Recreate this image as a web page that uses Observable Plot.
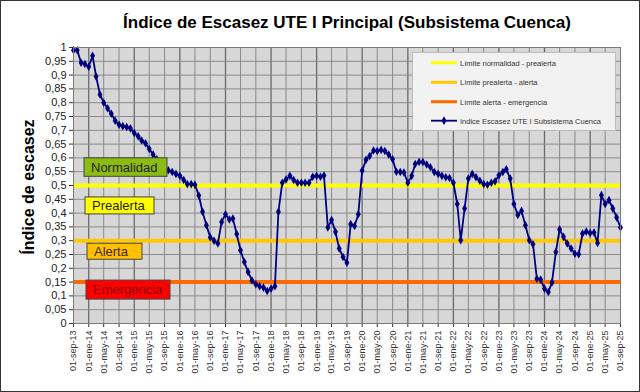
<!DOCTYPE html>
<html><head><meta charset="utf-8">
<script src="https://cdn.jsdelivr.net/npm/d3@7"></script>
<script src="https://cdn.jsdelivr.net/npm/@observablehq/plot@0.6"></script>
<style>body{margin:0;background:#fff;font-family:"Liberation Sans",Arial,sans-serif}</style>
</head><body><div id="chart"></div>
<script>
const title = "Índice de Escasez UTE I Principal (Subsistema Cuenca)";
const yLabel = "Índice de escasez";
const startMonth = "2013-09-01";
const endMonth = "2025-09-01";
const monthsEs = ["ene","feb","mar","abr","may","jun","jul","ago","sep","oct","nov","dic"];
const yTickValues = [0,0.05,0.1,0.15,0.2,0.25,0.3,0.35,0.4,0.45,0.5,0.55,0.6,0.65,0.7,0.75,0.8,0.85,0.9,0.95,1];
const indexValues = [
  0.99,0.99,0.945,0.94,0.93,0.97,0.895,0.83,0.80,0.78,0.76,0.735,
  0.72,0.715,0.712,0.707,0.69,0.678,0.663,0.653,0.632,0.612,0.595,0.575,
  0.562,0.555,0.549,0.542,0.535,0.52,0.505,0.505,0.503,0.464,0.405,0.356,
  0.312,0.30,0.29,0.368,0.396,0.377,0.38,0.324,0.265,0.223,0.187,0.156,
  0.142,0.135,0.13,0.118,0.126,0.135,0.405,0.51,0.522,0.535,0.52,0.51,
  0.51,0.51,0.51,0.532,0.535,0.532,0.536,0.348,0.375,0.332,0.272,0.241,
  0.22,0.36,0.353,0.396,0.554,0.593,0.607,0.627,0.625,0.629,0.625,0.612,
  0.595,0.55,0.549,0.547,0.51,0.535,0.578,0.585,0.585,0.576,0.566,0.549,
  0.542,0.535,0.53,0.527,0.51,0.433,0.302,0.417,0.525,0.542,0.53,0.517,
  0.505,0.503,0.51,0.515,0.537,0.549,0.559,0.525,0.433,0.393,0.408,0.356,
  0.302,0.287,0.162,0.159,0.126,0.114,0.149,0.259,0.341,0.314,0.29,0.272,
  0.253,0.251,0.326,0.333,0.328,0.33,0.292,0.465,0.433,0.447,0.417,0.384,
  0.348
];
const thresholdValues = [0.5, 0.3, 0.15];
const thresholdNames = ["Límite normalidad - prealerta","Límite prealerta - alerta","Límite alerta - emergencia"];
const seriesName = "Indice Escasez UTE I Subsistema Cuenca";
const levelNames = ["Normalidad","Prealerta","Alerta","Emergencia"];

// styles / layout
const thresholdColors = ["#ffff00", "#ffc800", "#ff6a00"];
const levelFill = ["#8cbb12", "#ffff00", "#ffc000", "#ff0000"];
const levelText = ["#1e1e1e", "#1e1e1e", "#3a2a00", "#8b0000"];
const levelLayout = [ // [x0, x1, yValueCenter, height]
  [84, 167, 0.565, 18.5],
  [85, 154, 0.426, 17],
  [87, 142, 0.26, 16],
  [86, 170, 0.121, 19]
];
const navy = "#00007f";

const start = new Date(startMonth + "T00:00:00Z");
const end = new Date(endMonth + "T00:00:00Z");
const data = indexValues.map((v, i) => ({date: d3.utcMonth.offset(start, i), value: v}));
const xTicks = d3.utcMonth.every(4).range(start, d3.utcDay.offset(end, 1));
const janTicks = xTicks.filter(d => d.getUTCMonth() === 0);
const otherTicks = xTicks.filter(d => d.getUTCMonth() !== 0);
const fmtX = d => "01-" + monthsEs[d.getUTCMonth()] + "-" + String(d.getUTCFullYear() % 100).padStart(2, "0");
const fmtY = v => v === 0 ? "0" : String(+v.toFixed(2)).replace(".", ",");

const chart = Plot.plot({
  width: 640, height: 392,
  marginLeft: 73, marginRight: 20, marginTop: 47, marginBottom: 69,
  style: {fontFamily: "Liberation Sans, Arial, sans-serif", fontSize: "9px", color: "#333", background: "#fff", overflow: "visible"},
  x: {type: "utc", domain: [start, end], ticks: xTicks, tickFormat: fmtX, tickRotate: -90, tickSize: 4, tickPadding: 3, label: null},
  y: {domain: [0, 1], ticks: yTickValues, tickFormat: fmtY, tickSize: 4, tickPadding: 3, label: null},
  marks: [
    Plot.frame({fill: "#d7d7d7"}),
    Plot.ruleX(otherTicks, {stroke: "#8a8a8a", strokeWidth: 1}),
    Plot.ruleX(janTicks, {stroke: "#6a6a6a", strokeWidth: 1.3}),
    Plot.ruleY(yTickValues, {stroke: "#8a8a8a", strokeWidth: 1}),
    Plot.ruleY([thresholdValues[0]], {stroke: thresholdColors[0], strokeWidth: 4}),
    Plot.ruleY([thresholdValues[1]], {stroke: thresholdColors[1], strokeWidth: 4}),
    Plot.ruleY([thresholdValues[2]], {stroke: thresholdColors[2], strokeWidth: 4}),
    Plot.line(data, {x: "date", y: "value", stroke: navy, strokeWidth: 1.8}),
    Plot.dot(data, {x: "date", y: "value", symbol: "diamond", r: 2.6, fill: navy, stroke: "none"}),
    Plot.frame({stroke: "#7a7a7a"})
  ]
});
document.getElementById("chart").appendChild(chart);

const svg = d3.select(chart);
svg.selectAll('g[aria-label="y-axis tick label"] text').attr("font-size", 11).attr("fill", "#222");
svg.selectAll('g[aria-label="x-axis tick label"] text').attr("fill", "#333");
const ys = chart.scale("y");

// outer border
svg.append("rect").attr("x", 0.5).attr("y", 0.5).attr("width", 639).attr("height", 391)
  .attr("fill", "none").attr("stroke", "#333");

// title
svg.append("text").attr("x", 347).attr("y", 28).attr("text-anchor", "middle")
  .attr("font-size", 17).attr("font-weight", "bold").attr("fill", "#000").text(title);
// y label
svg.append("text").attr("transform", "translate(34,187) rotate(-90)").attr("text-anchor", "middle")
  .attr("font-size", 16).attr("font-weight", "bold").attr("fill", "#000").text(yLabel);

// level labels
levelNames.forEach((name, i) => {
  const [x0, x1, yv, h] = levelLayout[i];
  const cy = ys.apply(yv);
  svg.append("rect").attr("x", x0).attr("y", cy - h / 2).attr("width", x1 - x0).attr("height", h)
    .attr("fill", levelFill[i]).attr("stroke", "#444").attr("stroke-width", 1);
  svg.append("text").attr("x", x0 + 7).attr("y", cy + 4.5).attr("font-size", 13).attr("text-anchor", "start")
    .attr("fill", levelText[i]).text(name);
});

// legend
const lg = svg.append("g").attr("text-anchor", "start");
lg.append("rect").attr("x", 412.5).attr("y", 52.5).attr("width", 203).attr("height", 78)
  .attr("fill", "#f2f2f2").attr("stroke", "#bdbdbd");
const rowsY = [62.7, 82.3, 101.7, 120.7];
thresholdNames.forEach((name, i) => {
  lg.append("line").attr("x1", 431).attr("x2", 457).attr("y1", rowsY[i]).attr("y2", rowsY[i])
    .attr("stroke", thresholdColors[i]).attr("stroke-width", 3);
  lg.append("text").attr("x", 460).attr("y", rowsY[i] + 2.8).attr("font-size", 7.5).attr("fill", "#333").text(name);
});
lg.append("line").attr("x1", 431).attr("x2", 457).attr("y1", rowsY[3]).attr("y2", rowsY[3])
  .attr("stroke", navy).attr("stroke-width", 1.8);
lg.append("path").attr("d", d3.symbol(d3.symbolDiamond, 22)()).attr("transform", `translate(444,${rowsY[3]})`).attr("fill", navy);
lg.append("text").attr("x", 460).attr("y", rowsY[3] + 2.8).attr("font-size", 7.5).attr("fill", "#333").text(seriesName);
</script></body></html>
